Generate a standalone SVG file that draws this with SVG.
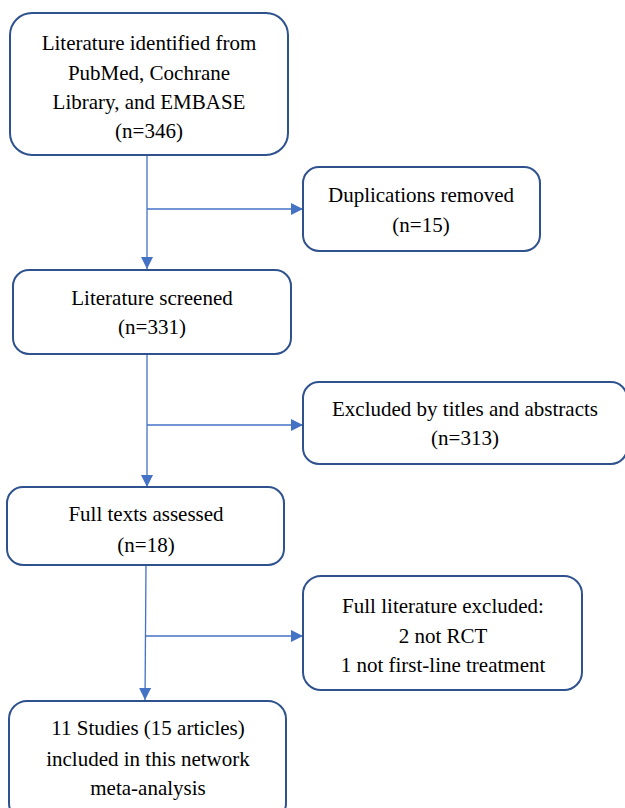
<svg xmlns="http://www.w3.org/2000/svg" width="625" height="808" viewBox="0 0 625 808">
<style>
.box{fill:#fff;stroke:#2F528F;stroke-width:2}
.t{font-family:"Liberation Serif","Times New Roman",serif;font-size:21px;fill:#000;text-anchor:middle}
.c{stroke:#4472C4;stroke-width:1.3;fill:none}
</style>
<defs>
<marker id="ah" viewBox="0 0 10 10" refX="10" refY="5" markerWidth="12" markerHeight="12" markerUnits="userSpaceOnUse" orient="auto">
<path d="M0,0 L10,5 L0,10 z" fill="#4472C4"/>
</marker>
</defs>
<g id="connectors">
<path class="c" d="M147,155 L147,269" marker-end="url(#ah)"/>
<path class="c" d="M147,209 L303,209" marker-end="url(#ah)"/>
<path class="c" d="M147,354 L147,487" marker-end="url(#ah)"/>
<path class="c" d="M147,425 L303,425" marker-end="url(#ah)"/>
<path class="c" d="M146,565 L145,700" marker-end="url(#ah)"/>
<path class="c" d="M146,636 L303,636" marker-end="url(#ah)"/>
</g>
<g id="n1">
<rect class="box" x="10" y="13" width="278" height="142" rx="22"/>
<text class="t" x="149" y="50">Literature identified from</text>
<text class="t" x="149" y="80">PubMed, Cochrane</text>
<text class="t" x="149" y="109">Library, and EMBASE</text>
<text class="t" x="149" y="138">(n=346)</text>
</g>
<g id="n2">
<rect class="box" x="303" y="167" width="237" height="84" rx="16"/>
<text class="t" x="421" y="202">Duplications removed</text>
<text class="t" x="421" y="232">(n=15)</text>
</g>
<g id="n3">
<rect class="box" x="13" y="270" width="278" height="84" rx="16"/>
<text class="t" x="152" y="305">Literature screened</text>
<text class="t" x="152" y="334">(n=331)</text>
</g>
<g id="n4">
<rect class="box" x="303" y="382" width="324" height="82" rx="16"/>
<text class="t" x="465" y="416">Excluded by titles and abstracts</text>
<text class="t" x="465" y="445">(n=313)</text>
</g>
<g id="n5">
<rect class="box" x="7" y="487" width="277" height="78" rx="16"/>
<text class="t" x="146" y="521">Full texts assessed</text>
<text class="t" x="146" y="552">(n=18)</text>
</g>
<g id="n6">
<rect class="box" x="303" y="576" width="279" height="114" rx="18"/>
<text class="t" x="443" y="613">Full literature excluded:</text>
<text class="t" x="443" y="643">2 not RCT</text>
<text class="t" x="443" y="672">1 not first-line treatment</text>
</g>
<g id="n7">
<rect class="box" x="9" y="701" width="277" height="120" rx="18"/>
<text class="t" x="148" y="735">11 Studies (15 articles)</text>
<text class="t" x="148" y="766">included in this network</text>
<text class="t" x="148" y="795">meta-analysis</text>
</g>
</svg>
